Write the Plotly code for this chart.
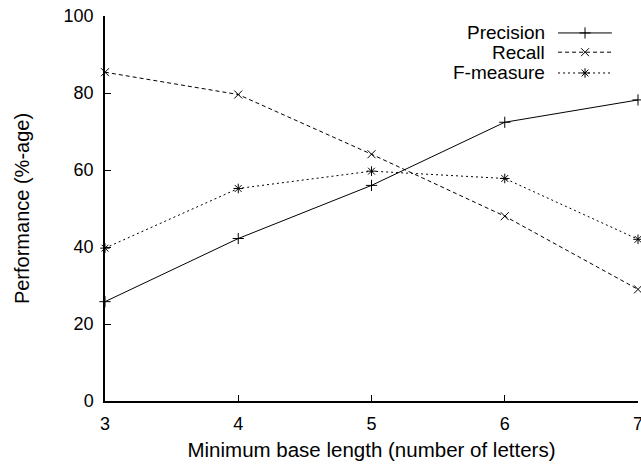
import plotly.graph_objects as go

x_vals = [3, 4, 5, 6, 7]
precision = [25.8, 42.2, 56.0, 72.4, 78.2]
recall = [85.4, 79.6, 64.1, 48.0, 29.0]
fmeasure = [39.7, 55.2, 59.7, 57.8, 42.0]
series_names = ["Precision", "Recall", "F-measure"]
x_ticks = [3, 4, 5, 6, 7]
y_ticks = [0, 20, 40, 60, 80, 100]

FONT = "Liberation Sans, Arial, sans-serif"
styles = [
    dict(dash="solid", symbol="cross-thin"),
    dict(dash="4px,3px", symbol="x-thin"),
    dict(dash="2px,3px", symbol="asterisk"),
]

fig = go.Figure()
for name, vals, st in zip(series_names, [precision, recall, fmeasure], styles):
    fig.add_trace(go.Scatter(
        x=x_vals, y=vals, mode="lines+markers", name=name, showlegend=False,
        line=dict(color="black", width=1, dash=st["dash"]),
        marker=dict(symbol=st["symbol"], size=8, color="black",
                    line=dict(color="black", width=1)),
        cliponaxis=False,
    ))

# gnuplot-style key: text right-aligned, sample line to the right
key_y = [0.956, 0.906, 0.852]
for name, st, ky in zip(series_names, styles, key_y):
    fig.add_trace(go.Scatter(
        x=[0.85, 0.9006, 0.951], y=[ky, ky, ky], mode="lines",
        xaxis="x2", yaxis="y2", showlegend=False, hoverinfo="skip",
        line=dict(color="black", width=1, dash=st["dash"]),
    ))
    fig.add_trace(go.Scatter(
        x=[0.9006], y=[ky], mode="markers",
        xaxis="x2", yaxis="y2", showlegend=False, hoverinfo="skip",
        marker=dict(symbol=st["symbol"], size=8, color="black",
                    line=dict(color="black", width=1)),
    ))
    fig.add_annotation(x=0.83, y=ky, xref="paper", yref="paper", text=name,
                       showarrow=False, xanchor="right", yanchor="middle",
                       font=dict(family=FONT, size=19, color="black"))

fig.update_layout(
    width=641, height=466,
    margin=dict(l=105, r=3, t=16, b=65),
    paper_bgcolor="white", plot_bgcolor="white",
    font=dict(family=FONT, size=18, color="black"),
    showlegend=False,
    xaxis=dict(range=[3, 7], tickvals=x_ticks, ticks="inside", ticklen=6,
               tickcolor="black", showline=True, linecolor="black", linewidth=1.5,
               showgrid=False, zeroline=False, ticklabelstandoff=6,
               ticklabeloverflow="allow",
               tickfont=dict(family=FONT, size=18, color="black"),
               title=dict(text="Minimum base length (number of letters)", standoff=9,
                          font=dict(family=FONT, size=20.5, color="black")),
               automargin=False),
    yaxis=dict(range=[0, 100], tickvals=y_ticks, ticks="inside", ticklen=6,
               tickcolor="black", showline=True, linecolor="black", linewidth=1.5,
               showgrid=False, zeroline=False, ticklabelstandoff=6,
               tickfont=dict(family=FONT, size=18, color="black"),
               title=dict(text="Performance (%-age)", standoff=29,
                          font=dict(family=FONT, size=20, color="black")),
               automargin=False),
    xaxis2=dict(range=[0, 1], overlaying="x", visible=False, domain=[0, 1]),
    yaxis2=dict(range=[0, 1], overlaying="y", visible=False),
)

fig.write_html("out.html")
